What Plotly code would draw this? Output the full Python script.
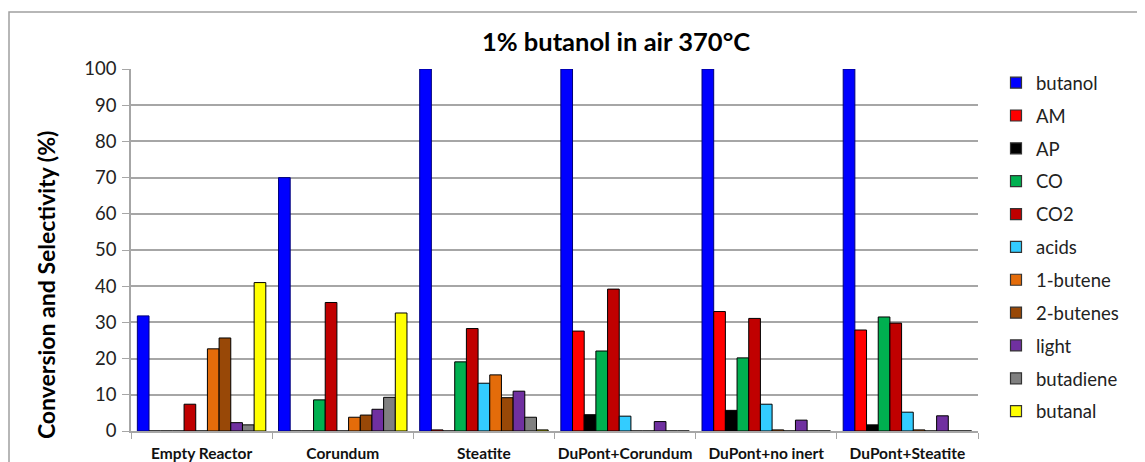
import plotly.graph_objects as go

# categories (x axis) and series
categories = ['Empty Reactor', 'Corundum', 'Steatite', 'DuPont+Corundum', 'DuPont+no inert', 'DuPont+Steatite']

butanol = [31.8, 70.0, 100, 100, 100, 100]
am = [0, 0, 0.3, 27.6, 33.0, 27.9]
ap = [0, 0, 0, 4.5, 5.7, 1.7]
co = [0, 8.6, 19.1, 22.1, 20.2, 31.5]
co2 = [7.4, 35.5, 28.3, 39.2, 31.1, 29.8]
acids = [0, 0, 13.2, 4.1, 7.4, 5.2]
butene1 = [22.7, 3.8, 15.5, 0, 0.3, 0.3]
butenes2 = [25.7, 4.4, 9.2, 0, 0, 0]
light = [2.3, 6.0, 11.0, 2.6, 3.0, 4.2]
butadiene = [1.7, 9.3, 3.8, 0, 0, 0]
butanal = [41.0, 32.6, 0.3, 0, 0, 0]

series = [
    ('butanol', butanol, '#0000FF', '#00007A'),
    ('AM', am, '#FF0000', '#000000'),
    ('AP', ap, '#000000', '#000000'),
    ('CO', co, '#00B050', '#000000'),
    ('CO2', co2, '#C00000', '#000000'),
    ('acids', acids, '#33CCFF', '#000000'),
    ('1-butene', butene1, '#E46C0A', '#000000'),
    ('2-butenes', butenes2, '#984807', '#000000'),
    ('light', light, '#7030A0', '#000000'),
    ('butadiene', butadiene, '#808080', '#000000'),
    ('butanal', butanal, '#FFFF00', '#000000'),
]

fig = go.Figure()
for name, vals, col, edge in series:
    fig.add_trace(go.Bar(
        x=categories, y=vals, name=name, legendgroup=name, showlegend=False,
        marker=dict(color=col, line=dict(color=edge, width=1)),
    ))
    # square legend swatch like the original
    fig.add_trace(go.Scatter(
        x=[None], y=[None], mode='markers', name=name, legendgroup=name,
        marker=dict(symbol='square', size=11, color=col, line=dict(color='#333333', width=1.2)),
    ))

font = 'Lato, Arial, sans-serif'

# the page body adds an 8px offset, so the figure is 8px smaller than the window
W, H = 1137, 454
fig.update_layout(
    width=W, height=H,
    margin=dict(l=123, r=167, t=61, b=31, autoexpand=False),
    paper_bgcolor='white', plot_bgcolor='white',
    barmode='group', bargap=0.09, bargroupgap=0,
    font=dict(family=font, color='#222222'),
    title=dict(text='<b>1% butanol in air 370°C</b>', x=608 / W, xref='container',
               y=1 - 33.7 / H, yref='container', xanchor='center', yanchor='middle',
               font=dict(size=25.5, color='#000000')),
    legend=dict(x=(996 - 131) / 847, y=1.0135, xanchor='left', yanchor='top',
                font=dict(size=18.5, color='#222222'), tracegroupgap=5.8,
                itemwidth=30, bgcolor='rgba(0,0,0,0)', maxheight=1.0),
    showlegend=True,
)

fig.update_yaxes(range=[0, 100], dtick=10, showgrid=True, gridcolor='#A6A6A6', gridwidth=1.5,
                 showline=True, linecolor='#A6A6A6', linewidth=1.5, automargin=False,
                 ticks='outside', ticklen=7, tickcolor='#A6A6A6', ticklabelstandoff=2,
                 tickfont=dict(size=18.5, color='#222222'), zeroline=False)
fig.update_xaxes(showline=True, linecolor='#A6A6A6', linewidth=1.5, automargin=False,
                 ticks='outside', tickson='boundaries', ticklen=6, tickcolor='#A6A6A6',
                 ticklabelstandoff=8, tickangle=0,
                 tickfont=dict(size=15.5, color='#111111', weight='bold'))

# y axis title as annotation to place it where the reference has it
fig.add_annotation(text='<b>Conversion and Selectivity (%)</b>', textangle=-90,
                   xref='paper', yref='paper', x=(46 - 131) / 847, y=0.403,
                   xanchor='center', yanchor='middle',
                   showarrow=False, font=dict(size=23, color='#000000'))

# chart-area border
fig.add_shape(type='rect', xref='paper', yref='paper',
              x0=(9 - 131) / 847, x1=1.3, y0=-0.3, y1=(431 - 12) / 362,
              line=dict(color='#A0A0A0', width=1.5), layer='below')

fig.write_html('out.html')
